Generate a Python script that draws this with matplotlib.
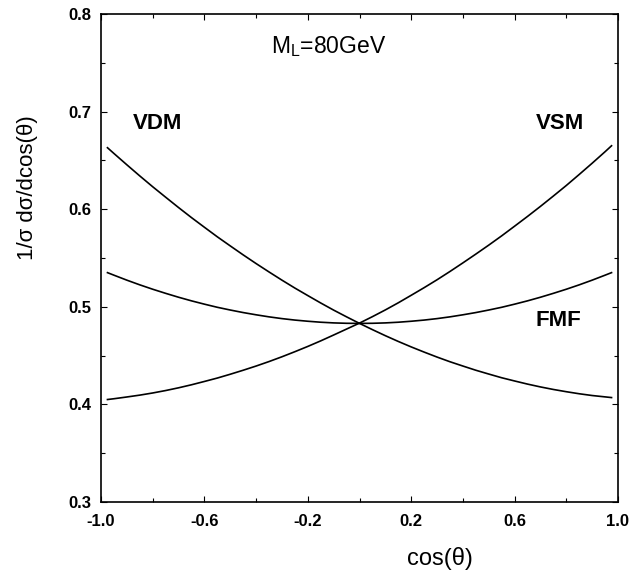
import matplotlib
matplotlib.use("Agg")
import matplotlib.pyplot as plt
from matplotlib.ticker import MultipleLocator, FixedLocator

FONT = "Liberation Sans"
plt.rcParams['font.family'] = [FONT, 'DejaVu Sans']
plt.rcParams['mathtext.fontset'] = 'custom'
plt.rcParams['mathtext.rm'] = FONT

# ---- data ----
cos_theta = [-0.975, -0.95, -0.9, -0.85, -0.8, -0.75, -0.7, -0.65, -0.6, -0.55, -0.5,
             -0.45, -0.4, -0.35, -0.3, -0.25, -0.2, -0.15, -0.1, -0.05, 0.0,
             0.05, 0.1, 0.15, 0.2, 0.25, 0.3, 0.35, 0.4, 0.45, 0.5,
             0.55, 0.6, 0.65, 0.7, 0.75, 0.8, 0.85, 0.9, 0.95, 0.975]
vdm = [0.6630, 0.6571, 0.6455, 0.6341, 0.6230, 0.6123, 0.6017, 0.5914, 0.5815, 0.5717, 0.5624,
       0.5532, 0.5443, 0.5357, 0.5273, 0.5192, 0.5115, 0.5039, 0.4966, 0.4897, 0.4830,
       0.4766, 0.4704, 0.4645, 0.4589, 0.4536, 0.4485, 0.4437, 0.4393, 0.4350, 0.4311,
       0.4273, 0.4240, 0.4208, 0.4179, 0.4153, 0.4130, 0.4109, 0.4091, 0.4077, 0.4070]
vsm = [0.4050, 0.4058, 0.4076, 0.4095, 0.4117, 0.4142, 0.4170, 0.4201, 0.4235, 0.4270, 0.4309,
       0.4350, 0.4393, 0.4439, 0.4488, 0.4540, 0.4594, 0.4651, 0.4711, 0.4772, 0.4833,
       0.4899, 0.4968, 0.5041, 0.5118, 0.5196, 0.5277, 0.5362, 0.5450, 0.5540, 0.5632,
       0.5727, 0.5826, 0.5926, 0.6029, 0.6135, 0.6243, 0.6356, 0.6471, 0.6589, 0.6650]
fmf = [0.5350, 0.5324, 0.5273, 0.5225, 0.5180, 0.5138, 0.5098, 0.5061, 0.5027, 0.4995, 0.4967,
       0.4941, 0.4918, 0.4897, 0.4879, 0.4864, 0.4852, 0.4842, 0.4835, 0.4831, 0.4830,
       0.4831, 0.4835, 0.4842, 0.4852, 0.4864, 0.4879, 0.4897, 0.4918, 0.4941, 0.4967,
       0.4995, 0.5027, 0.5061, 0.5098, 0.5138, 0.5180, 0.5225, 0.5273, 0.5324, 0.5350]
x_tick_labels = ["-1.0", "-0.6", "-0.2", "0.2", "0.6", "1.0"]
x_tick_values = [-1.0, -0.6, -0.2, 0.2, 0.6, 1.0]
y_tick_values = [0.3, 0.4, 0.5, 0.6, 0.7, 0.8]
y_tick_labels = ["0.3", "0.4", "0.5", "0.6", "0.7", "0.8"]

W, H = 641, 573
fig = plt.figure(figsize=(W / 100, H / 100), dpi=100)
ax = fig.add_axes([101 / W, 1 - 502 / H, (618 - 101) / W, (502 - 14) / H])

for ys in (vdm, vsm, fmf):
    ax.plot(cos_theta, ys, color='black', lw=1.2, solid_joinstyle='round')

ax.set_xlim(-1.0, 1.0)
ax.set_ylim(0.3, 0.8)
ax.xaxis.set_major_locator(FixedLocator(x_tick_values))
ax.set_xticklabels(x_tick_labels)
ax.xaxis.set_minor_locator(MultipleLocator(0.2))
ax.yaxis.set_major_locator(FixedLocator(y_tick_values))
ax.set_yticklabels(y_tick_labels)
ax.yaxis.set_minor_locator(MultipleLocator(0.05))
ax.tick_params(which='both', direction='in', top=True, right=True, width=0.8)
ax.tick_params(which='major', length=4)
ax.tick_params(which='minor', length=3)
ax.tick_params(axis='x', which='major', pad=9, labelsize=12)
ax.tick_params(axis='y', which='major', pad=7, labelsize=12)
for lab in ax.get_xticklabels() + ax.get_yticklabels():
    lab.set_fontweight('bold')
for s in ax.spines.values():
    s.set_linewidth(1.2)

ax.text(-0.78, 0.688, "VDM", fontsize=16, fontweight='bold', ha='center', va='center')
ax.text(0.776, 0.688, "VSM", fontsize=16, fontweight='bold', ha='center', va='center')
ax.text(0.77, 0.486, "FMF", fontsize=16, fontweight='bold', ha='center', va='center')
ax.text(-0.118, 0.767, r"M$_\mathregular{L}$=80GeV", fontsize=16.5, ha='center', va='center')

fig.text(27 / W, 1 - 188 / H, "1/σ dσ/dcos(θ)", rotation=90, fontsize=16,
         ha='center', va='center')
fig.text(440 / W, 1 - 559 / H, "cos(θ)", fontsize=17, ha='center', va='center')

fig.savefig("out.png", dpi=100)
